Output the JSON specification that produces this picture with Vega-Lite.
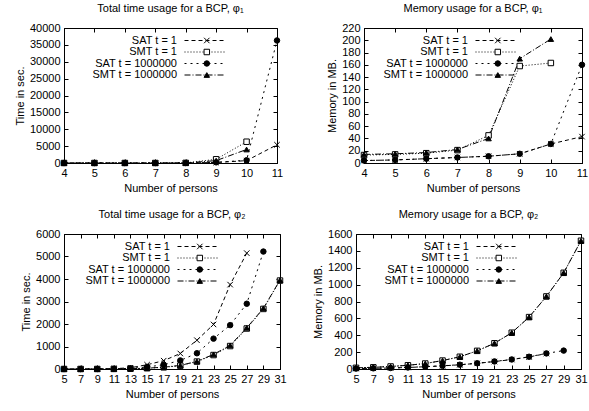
{
  "$schema": "https://vega.github.io/schema/vega-lite/v6.json",
  "padding": {"left": 13, "top": 2, "right": 0, "bottom": 2},
  "config": {
    "font": "Liberation Sans",
    "view": {"stroke": "black", "strokeWidth": 1},
    "axis": {"grid": false, "domainColor": "black", "tickColor": "black", "tickSize": -4, "labelPadding": 8, "labelFontSize": 11, "labelColor": "black", "titleFontSize": 11, "titleFontWeight": "normal", "titleColor": "black", "labelFlush": false},
    "title": {"fontSize": 11, "fontWeight": "normal", "offset": 8, "color": "black"},
    "legend": {"orient": "none", "padding": 0, "labelFontSize": 11, "labelAlign": "right", "labelOffset": -33, "symbolType": "M-4,0H4", "symbolSize": 100, "symbolStrokeWidth": 1, "symbolStrokeColor": "black", "symbolFillColor": "transparent", "symbolOpacity": 1, "rowPadding": -0.5, "title": null, "labelColor": "black"},
    "point": {"stroke": "black", "strokeWidth": 1, "size": 30, "opacity": 1, "filled": true}
  },
  "datasets": {
    "d": [
      {"p":"p1","s":"SAT t = 1","n":4,"v":0},{"p":"p1","s":"SAT t = 1","n":5,"v":0},{"p":"p1","s":"SAT t = 1","n":6,"v":0},{"p":"p1","s":"SAT t = 1","n":7,"v":0},{"p":"p1","s":"SAT t = 1","n":8,"v":5},{"p":"p1","s":"SAT t = 1","n":9,"v":150},{"p":"p1","s":"SAT t = 1","n":10,"v":700},{"p":"p1","s":"SAT t = 1","n":11,"v":5400},
      {"p":"p1","s":"SMT t = 1","n":4,"v":0},{"p":"p1","s":"SMT t = 1","n":5,"v":0},{"p":"p1","s":"SMT t = 1","n":6,"v":0},{"p":"p1","s":"SMT t = 1","n":7,"v":0},{"p":"p1","s":"SMT t = 1","n":8,"v":30},{"p":"p1","s":"SMT t = 1","n":9,"v":1100},{"p":"p1","s":"SMT t = 1","n":10,"v":6300},
      {"p":"p1","s":"SAT t = 1000000","n":4,"v":0},{"p":"p1","s":"SAT t = 1000000","n":5,"v":0},{"p":"p1","s":"SAT t = 1000000","n":6,"v":0},{"p":"p1","s":"SAT t = 1000000","n":7,"v":0},{"p":"p1","s":"SAT t = 1000000","n":8,"v":5},{"p":"p1","s":"SAT t = 1000000","n":9,"v":200},{"p":"p1","s":"SAT t = 1000000","n":10,"v":800},{"p":"p1","s":"SAT t = 1000000","n":11,"v":36300},
      {"p":"p1","s":"SMT t = 1000000","n":4,"v":0},{"p":"p1","s":"SMT t = 1000000","n":5,"v":0},{"p":"p1","s":"SMT t = 1000000","n":6,"v":0},{"p":"p1","s":"SMT t = 1000000","n":7,"v":0},{"p":"p1","s":"SMT t = 1000000","n":8,"v":20},{"p":"p1","s":"SMT t = 1000000","n":9,"v":700},{"p":"p1","s":"SMT t = 1000000","n":10,"v":4000},

      {"p":"p2","s":"SAT t = 1","n":4,"v":4},{"p":"p2","s":"SAT t = 1","n":5,"v":5},{"p":"p2","s":"SAT t = 1","n":6,"v":7},{"p":"p2","s":"SAT t = 1","n":7,"v":9},{"p":"p2","s":"SAT t = 1","n":8,"v":11},{"p":"p2","s":"SAT t = 1","n":9,"v":15},{"p":"p2","s":"SAT t = 1","n":10,"v":31},{"p":"p2","s":"SAT t = 1","n":11,"v":43},
      {"p":"p2","s":"SMT t = 1","n":4,"v":13},{"p":"p2","s":"SMT t = 1","n":5,"v":14},{"p":"p2","s":"SMT t = 1","n":6,"v":16},{"p":"p2","s":"SMT t = 1","n":7,"v":21},{"p":"p2","s":"SMT t = 1","n":8,"v":45},{"p":"p2","s":"SMT t = 1","n":9,"v":158},{"p":"p2","s":"SMT t = 1","n":10,"v":163},
      {"p":"p2","s":"SAT t = 1000000","n":4,"v":4},{"p":"p2","s":"SAT t = 1000000","n":5,"v":5},{"p":"p2","s":"SAT t = 1000000","n":6,"v":7},{"p":"p2","s":"SAT t = 1000000","n":7,"v":9},{"p":"p2","s":"SAT t = 1000000","n":8,"v":11},{"p":"p2","s":"SAT t = 1000000","n":9,"v":15},{"p":"p2","s":"SAT t = 1000000","n":10,"v":31},{"p":"p2","s":"SAT t = 1000000","n":11,"v":160},
      {"p":"p2","s":"SMT t = 1000000","n":4,"v":14},{"p":"p2","s":"SMT t = 1000000","n":5,"v":15},{"p":"p2","s":"SMT t = 1000000","n":6,"v":17},{"p":"p2","s":"SMT t = 1000000","n":7,"v":22},{"p":"p2","s":"SMT t = 1000000","n":8,"v":40},{"p":"p2","s":"SMT t = 1000000","n":9,"v":170},{"p":"p2","s":"SMT t = 1000000","n":10,"v":202},

      {"p":"p3","s":"SAT t = 1","n":5,"v":0},{"p":"p3","s":"SAT t = 1","n":7,"v":1},{"p":"p3","s":"SAT t = 1","n":9,"v":4},{"p":"p3","s":"SAT t = 1","n":11,"v":15},{"p":"p3","s":"SAT t = 1","n":13,"v":55},{"p":"p3","s":"SAT t = 1","n":15,"v":190},{"p":"p3","s":"SAT t = 1","n":17,"v":370},{"p":"p3","s":"SAT t = 1","n":19,"v":690},{"p":"p3","s":"SAT t = 1","n":21,"v":1280},{"p":"p3","s":"SAT t = 1","n":23,"v":1980},{"p":"p3","s":"SAT t = 1","n":25,"v":3750},{"p":"p3","s":"SAT t = 1","n":27,"v":5150},
      {"p":"p3","s":"SMT t = 1","n":5,"v":0},{"p":"p3","s":"SMT t = 1","n":7,"v":0},{"p":"p3","s":"SMT t = 1","n":9,"v":1},{"p":"p3","s":"SMT t = 1","n":11,"v":4},{"p":"p3","s":"SMT t = 1","n":13,"v":12},{"p":"p3","s":"SMT t = 1","n":15,"v":35},{"p":"p3","s":"SMT t = 1","n":17,"v":75},{"p":"p3","s":"SMT t = 1","n":19,"v":150},{"p":"p3","s":"SMT t = 1","n":21,"v":330},{"p":"p3","s":"SMT t = 1","n":23,"v":620},{"p":"p3","s":"SMT t = 1","n":25,"v":1020},{"p":"p3","s":"SMT t = 1","n":27,"v":1800},{"p":"p3","s":"SMT t = 1","n":29,"v":2670},{"p":"p3","s":"SMT t = 1","n":31,"v":3930},
      {"p":"p3","s":"SAT t = 1000000","n":5,"v":0},{"p":"p3","s":"SAT t = 1000000","n":7,"v":0},{"p":"p3","s":"SAT t = 1000000","n":9,"v":2},{"p":"p3","s":"SAT t = 1000000","n":11,"v":8},{"p":"p3","s":"SAT t = 1000000","n":13,"v":30},{"p":"p3","s":"SAT t = 1000000","n":15,"v":90},{"p":"p3","s":"SAT t = 1000000","n":17,"v":190},{"p":"p3","s":"SAT t = 1000000","n":19,"v":380},{"p":"p3","s":"SAT t = 1000000","n":21,"v":700},{"p":"p3","s":"SAT t = 1000000","n":23,"v":1350},{"p":"p3","s":"SAT t = 1000000","n":25,"v":1950},{"p":"p3","s":"SAT t = 1000000","n":27,"v":2900},{"p":"p3","s":"SAT t = 1000000","n":29,"v":5220},
      {"p":"p3","s":"SMT t = 1000000","n":5,"v":0},{"p":"p3","s":"SMT t = 1000000","n":7,"v":0},{"p":"p3","s":"SMT t = 1000000","n":9,"v":1},{"p":"p3","s":"SMT t = 1000000","n":11,"v":4},{"p":"p3","s":"SMT t = 1000000","n":13,"v":13},{"p":"p3","s":"SMT t = 1000000","n":15,"v":38},{"p":"p3","s":"SMT t = 1000000","n":17,"v":80},{"p":"p3","s":"SMT t = 1000000","n":19,"v":160},{"p":"p3","s":"SMT t = 1000000","n":21,"v":340},{"p":"p3","s":"SMT t = 1000000","n":23,"v":650},{"p":"p3","s":"SMT t = 1000000","n":25,"v":1050},{"p":"p3","s":"SMT t = 1000000","n":27,"v":1830},{"p":"p3","s":"SMT t = 1000000","n":29,"v":2700},{"p":"p3","s":"SMT t = 1000000","n":31,"v":3950},

      {"p":"p4","s":"SAT t = 1","n":5,"v":5},{"p":"p4","s":"SAT t = 1","n":7,"v":8},{"p":"p4","s":"SAT t = 1","n":9,"v":12},{"p":"p4","s":"SAT t = 1","n":11,"v":18},{"p":"p4","s":"SAT t = 1","n":13,"v":27},{"p":"p4","s":"SAT t = 1","n":15,"v":37},{"p":"p4","s":"SAT t = 1","n":17,"v":50},{"p":"p4","s":"SAT t = 1","n":19,"v":67},{"p":"p4","s":"SAT t = 1","n":21,"v":88},{"p":"p4","s":"SAT t = 1","n":23,"v":112},{"p":"p4","s":"SAT t = 1","n":25,"v":143},{"p":"p4","s":"SAT t = 1","n":27,"v":183},
      {"p":"p4","s":"SMT t = 1","n":5,"v":14},{"p":"p4","s":"SMT t = 1","n":7,"v":20},{"p":"p4","s":"SMT t = 1","n":9,"v":30},{"p":"p4","s":"SMT t = 1","n":11,"v":44},{"p":"p4","s":"SMT t = 1","n":13,"v":65},{"p":"p4","s":"SMT t = 1","n":15,"v":100},{"p":"p4","s":"SMT t = 1","n":17,"v":145},{"p":"p4","s":"SMT t = 1","n":19,"v":215},{"p":"p4","s":"SMT t = 1","n":21,"v":305},{"p":"p4","s":"SMT t = 1","n":23,"v":430},{"p":"p4","s":"SMT t = 1","n":25,"v":615},{"p":"p4","s":"SMT t = 1","n":27,"v":860},{"p":"p4","s":"SMT t = 1","n":29,"v":1140},{"p":"p4","s":"SMT t = 1","n":31,"v":1520},
      {"p":"p4","s":"SAT t = 1000000","n":5,"v":5},{"p":"p4","s":"SAT t = 1000000","n":7,"v":8},{"p":"p4","s":"SAT t = 1000000","n":9,"v":12},{"p":"p4","s":"SAT t = 1000000","n":11,"v":18},{"p":"p4","s":"SAT t = 1000000","n":13,"v":28},{"p":"p4","s":"SAT t = 1000000","n":15,"v":38},{"p":"p4","s":"SAT t = 1000000","n":17,"v":51},{"p":"p4","s":"SAT t = 1000000","n":19,"v":68},{"p":"p4","s":"SAT t = 1000000","n":21,"v":90},{"p":"p4","s":"SAT t = 1000000","n":23,"v":113},{"p":"p4","s":"SAT t = 1000000","n":25,"v":145},{"p":"p4","s":"SAT t = 1000000","n":27,"v":185},{"p":"p4","s":"SAT t = 1000000","n":29,"v":218},
      {"p":"p4","s":"SMT t = 1000000","n":5,"v":14},{"p":"p4","s":"SMT t = 1000000","n":7,"v":20},{"p":"p4","s":"SMT t = 1000000","n":9,"v":30},{"p":"p4","s":"SMT t = 1000000","n":11,"v":44},{"p":"p4","s":"SMT t = 1000000","n":13,"v":65},{"p":"p4","s":"SMT t = 1000000","n":15,"v":100},{"p":"p4","s":"SMT t = 1000000","n":17,"v":145},{"p":"p4","s":"SMT t = 1000000","n":19,"v":215},{"p":"p4","s":"SMT t = 1000000","n":21,"v":305},{"p":"p4","s":"SMT t = 1000000","n":23,"v":430},{"p":"p4","s":"SMT t = 1000000","n":25,"v":615},{"p":"p4","s":"SMT t = 1000000","n":27,"v":860},{"p":"p4","s":"SMT t = 1000000","n":29,"v":1140},{"p":"p4","s":"SMT t = 1000000","n":31,"v":1520}
    ]
  },
  "data": {"name": "d"},
  "spacing": 14,
  "align": "none",
  "resolve": {"scale": {"strokeDash": "independent", "shape": "independent", "fill": "independent"}, "legend": {"strokeDash": "independent", "shape": "independent", "fill": "independent"}},
  "vconcat": [
    {
      "spacing": 42,
      "resolve": {"scale": {"strokeDash": "independent", "shape": "independent", "fill": "independent"}, "legend": {"strokeDash": "independent", "shape": "independent", "fill": "independent"}},
      "hconcat": [
        {
          "width": 213, "height": 135,
          "title": "Total time usage for a BCP, φ₁",
          "transform": [{"filter": "datum.p == 'p1'"}],
          "resolve": {"axis": {"x": "independent", "y": "independent"}},
          "encoding": {
            "x": {"field": "n", "type": "quantitative", "scale": {"domain": [4, 11], "nice": false}, "axis": null},
            "y": {"field": "v", "type": "quantitative", "scale": {"domain": [0, 40000], "nice": false}, "axis": null}
          },
          "layer": [
            {"mark": {"type": "line", "color": "black", "strokeWidth": 1},
             "encoding": {
               "x": {"field": "n", "type": "quantitative", "axis": {"values": [4,5,6,7,8,9,10,11], "title": "Number of persons"}},
               "y": {"field": "v", "type": "quantitative", "axis": {"values": [0,5000,10000,15000,20000,25000,30000,35000,40000], "format": "d", "title": "Time in sec."}},
               "strokeDash": {"field": "s", "type": "nominal", "scale": {"domain": ["SAT t = 1","SMT t = 1","SAT t = 1000000","SMT t = 1000000"], "range": [[4,3],[1,2],[2,4],[6,2,1,2]]}, "legend": {"legendX": 135, "legendY": 7}}}},
            {"transform": [{"calculate": "datum.s + ' '", "as": "k"}],
             "mark": {"type": "point"},
             "encoding": {
               "x": {"field": "n", "type": "quantitative", "axis": {"orient": "top", "values": [4,5,6,7,8,9,10,11], "labels": false, "domain": false, "title": null}},
               "y": {"field": "v", "type": "quantitative", "axis": {"orient": "right", "values": [0,5000,10000,15000,20000,25000,30000,35000,40000], "labels": false, "domain": false, "title": null}},
               "shape": {"field": "k", "type": "nominal", "scale": {"domain": ["SAT t = 1 ","SMT t = 1 ","SAT t = 1000000 ","SMT t = 1000000 "], "range": ["M-1,-1L1,1M-1,1L1,-1","square","circle","triangle-up"]}, "legend": {"legendX": 137.3, "legendY": 7, "symbolSize": 30, "labelExpr": "''"}},
               "fill": {"field": "k", "type": "nominal", "scale": {"domain": ["SAT t = 1 ","SMT t = 1 ","SAT t = 1000000 ","SMT t = 1000000 "], "range": ["transparent","white","black","black"]}, "legend": {"legendX": 137.3, "legendY": 7, "symbolSize": 30, "labelExpr": "''"}}}}
          ]
        },
        {
          "width": 218, "height": 135,
          "title": "Memory usage for a BCP, φ₁",
          "transform": [{"filter": "datum.p == 'p2'"}],
          "resolve": {"axis": {"x": "independent", "y": "independent"}},
          "encoding": {
            "x": {"field": "n", "type": "quantitative", "scale": {"domain": [4, 11], "nice": false}, "axis": null},
            "y": {"field": "v", "type": "quantitative", "scale": {"domain": [0, 220], "nice": false}, "axis": null}
          },
          "layer": [
            {"mark": {"type": "line", "color": "black", "strokeWidth": 1},
             "encoding": {
               "x": {"field": "n", "type": "quantitative", "axis": {"values": [4,5,6,7,8,9,10,11], "title": "Number of persons"}},
               "y": {"field": "v", "type": "quantitative", "axis": {"values": [0,20,40,60,80,100,120,140,160,180,200,220], "title": "Memory in MB."}},
               "strokeDash": {"field": "s", "type": "nominal", "scale": {"domain": ["SAT t = 1","SMT t = 1","SAT t = 1000000","SMT t = 1000000"], "range": [[4,3],[1,2],[2,4],[6,2,1,2]]}, "legend": {"legendX": 126, "legendY": 7}}}},
            {"transform": [{"calculate": "datum.s + ' '", "as": "k"}],
             "mark": {"type": "point"},
             "encoding": {
               "x": {"field": "n", "type": "quantitative", "axis": {"orient": "top", "values": [4,5,6,7,8,9,10,11], "labels": false, "domain": false, "title": null}},
               "y": {"field": "v", "type": "quantitative", "axis": {"orient": "right", "values": [0,20,40,60,80,100,120,140,160,180,200,220], "labels": false, "domain": false, "title": null}},
               "shape": {"field": "k", "type": "nominal", "scale": {"domain": ["SAT t = 1 ","SMT t = 1 ","SAT t = 1000000 ","SMT t = 1000000 "], "range": ["M-1,-1L1,1M-1,1L1,-1","square","circle","triangle-up"]}, "legend": {"legendX": 128.3, "legendY": 7, "symbolSize": 30, "labelExpr": "''"}},
               "fill": {"field": "k", "type": "nominal", "scale": {"domain": ["SAT t = 1 ","SMT t = 1 ","SAT t = 1000000 ","SMT t = 1000000 "], "range": ["transparent","white","black","black"]}, "legend": {"legendX": 128.3, "legendY": 7, "symbolSize": 30, "labelExpr": "''"}}}}
          ]
        }
      ]
    },
    {
      "spacing": 25,
      "resolve": {"scale": {"strokeDash": "independent", "shape": "independent", "fill": "independent"}, "legend": {"strokeDash": "independent", "shape": "independent", "fill": "independent"}},
      "hconcat": [
        {
          "width": 216, "height": 135,
          "title": "Total time usage for a BCP, φ₂",
          "transform": [{"filter": "datum.p == 'p3'"}],
          "resolve": {"axis": {"x": "independent", "y": "independent"}},
          "encoding": {
            "x": {"field": "n", "type": "quantitative", "scale": {"domain": [5, 31], "nice": false}, "axis": null},
            "y": {"field": "v", "type": "quantitative", "scale": {"domain": [0, 6000], "nice": false}, "axis": null}
          },
          "layer": [
            {"mark": {"type": "line", "color": "black", "strokeWidth": 1},
             "encoding": {
               "x": {"field": "n", "type": "quantitative", "axis": {"values": [5,7,9,11,13,15,17,19,21,23,25,27,29,31], "title": "Number of persons"}},
               "y": {"field": "v", "type": "quantitative", "axis": {"values": [0,1000,2000,3000,4000,5000,6000], "format": "d", "title": "Time in sec."}},
               "strokeDash": {"field": "s", "type": "nominal", "scale": {"domain": ["SAT t = 1","SMT t = 1","SAT t = 1000000","SMT t = 1000000"], "range": [[4,3],[1,2],[2,4],[6,2,1,2]]}, "legend": {"legendX": 128, "legendY": 7}}}},
            {"transform": [{"calculate": "datum.s + ' '", "as": "k"}],
             "mark": {"type": "point"},
             "encoding": {
               "x": {"field": "n", "type": "quantitative", "axis": {"orient": "top", "values": [5,7,9,11,13,15,17,19,21,23,25,27,29,31], "labels": false, "domain": false, "title": null}},
               "y": {"field": "v", "type": "quantitative", "axis": {"orient": "right", "values": [0,1000,2000,3000,4000,5000,6000], "labels": false, "domain": false, "title": null}},
               "shape": {"field": "k", "type": "nominal", "scale": {"domain": ["SAT t = 1 ","SMT t = 1 ","SAT t = 1000000 ","SMT t = 1000000 "], "range": ["M-1,-1L1,1M-1,1L1,-1","square","circle","triangle-up"]}, "legend": {"legendX": 130.3, "legendY": 7, "symbolSize": 30, "labelExpr": "''"}},
               "fill": {"field": "k", "type": "nominal", "scale": {"domain": ["SAT t = 1 ","SMT t = 1 ","SAT t = 1000000 ","SMT t = 1000000 "], "range": ["transparent","white","black","black"]}, "legend": {"legendX": 130.3, "legendY": 7, "symbolSize": 30, "labelExpr": "''"}}}}
          ]
        },
        {
          "width": 225, "height": 135,
          "title": "Memory usage for a BCP, φ₂",
          "transform": [{"filter": "datum.p == 'p4'"}],
          "resolve": {"axis": {"x": "independent", "y": "independent"}},
          "encoding": {
            "x": {"field": "n", "type": "quantitative", "scale": {"domain": [5, 31], "nice": false}, "axis": null},
            "y": {"field": "v", "type": "quantitative", "scale": {"domain": [0, 1600], "nice": false}, "axis": null}
          },
          "layer": [
            {"mark": {"type": "line", "color": "black", "strokeWidth": 1},
             "encoding": {
               "x": {"field": "n", "type": "quantitative", "axis": {"values": [5,7,9,11,13,15,17,19,21,23,25,27,29,31], "title": "Number of persons"}},
               "y": {"field": "v", "type": "quantitative", "axis": {"values": [0,200,400,600,800,1000,1200,1400,1600], "format": "d", "title": "Memory in MB."}},
               "strokeDash": {"field": "s", "type": "nominal", "scale": {"domain": ["SAT t = 1","SMT t = 1","SAT t = 1000000","SMT t = 1000000"], "range": [[4,3],[1,2],[2,4],[6,2,1,2]]}, "legend": {"legendX": 135, "legendY": 7}}}},
            {"transform": [{"calculate": "datum.s + ' '", "as": "k"}],
             "mark": {"type": "point"},
             "encoding": {
               "x": {"field": "n", "type": "quantitative", "axis": {"orient": "top", "values": [5,7,9,11,13,15,17,19,21,23,25,27,29,31], "labels": false, "domain": false, "title": null}},
               "y": {"field": "v", "type": "quantitative", "axis": {"orient": "right", "values": [0,200,400,600,800,1000,1200,1400,1600], "labels": false, "domain": false, "title": null}},
               "shape": {"field": "k", "type": "nominal", "scale": {"domain": ["SAT t = 1 ","SMT t = 1 ","SAT t = 1000000 ","SMT t = 1000000 "], "range": ["M-1,-1L1,1M-1,1L1,-1","square","circle","triangle-up"]}, "legend": {"legendX": 137.3, "legendY": 7, "symbolSize": 30, "labelExpr": "''"}},
               "fill": {"field": "k", "type": "nominal", "scale": {"domain": ["SAT t = 1 ","SMT t = 1 ","SAT t = 1000000 ","SMT t = 1000000 "], "range": ["transparent","white","black","black"]}, "legend": {"legendX": 137.3, "legendY": 7, "symbolSize": 30, "labelExpr": "''"}}}}
          ]
        }
      ]
    }
  ]
}
